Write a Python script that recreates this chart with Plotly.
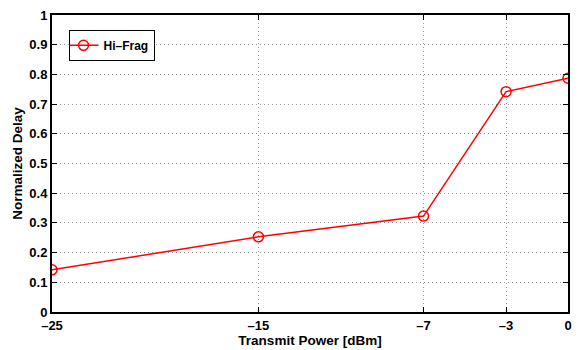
import plotly.graph_objects as go

x_vals = [-25, -15, -7, -3, 0]
delay = [0.142, 0.253, 0.323, 0.742, 0.787]
x_ticks = [-25, -15, -7, -3, 0]
x_ticktext = ["\u201325", "\u201315", "\u20137", "\u20133", "0"]
y_ticks = [0, 0.1, 0.2, 0.3, 0.4, 0.5, 0.6, 0.7, 0.8, 0.9, 1]
y_ticktext = ["0", "0.1", "0.2", "0.3", "0.4", "0.5", "0.6", "0.7", "0.8", "0.9", "1"]

fig = go.Figure()
fig.add_trace(go.Scatter(
    x=x_vals, y=delay, mode="lines+markers", name="Hi\u2013Frag",
    line=dict(color="red", width=1.5),
    marker=dict(symbol="circle-open", size=10, color="red", line=dict(width=1.5)),
))

font = dict(family="Arial", size=13, color="black", weight=700)
title_font = dict(family="Arial", size=13.5, color="black", weight=700)
axis_common = dict(
    showline=True, linecolor="black", linewidth=2, mirror="ticks",
    ticks="inside", ticklen=5, tickcolor="black", tickwidth=1,
    showgrid=True, gridcolor="#9a9a9a", griddash="1px,3px", gridwidth=1,
    zeroline=False, tickfont=font,
)
fig.update_layout(
    width=580, height=350,
    margin=dict(l=52, r=8, t=13, b=36),
    paper_bgcolor="white", plot_bgcolor="white",
    showlegend=True,
    legend=dict(x=0.032, y=0.95, xanchor="left", yanchor="top",
                bordercolor="black", borderwidth=1, bgcolor="white",
                font=dict(family="Arial", size=12, color="black", weight=700),
                itemwidth=30, tracegroupgap=0, indentation=-6),
    xaxis=dict(range=[-25, 0], tickvals=x_ticks, ticktext=x_ticktext,
               title=dict(text="Transmit Power [dBm]", font=title_font, standoff=0),
               **axis_common),
    yaxis=dict(range=[0, 1], tickvals=y_ticks, ticktext=y_ticktext,
               title=dict(text="Normalized Delay", font=title_font, standoff=4),
               **axis_common),
)
fig.write_html("out.html")
